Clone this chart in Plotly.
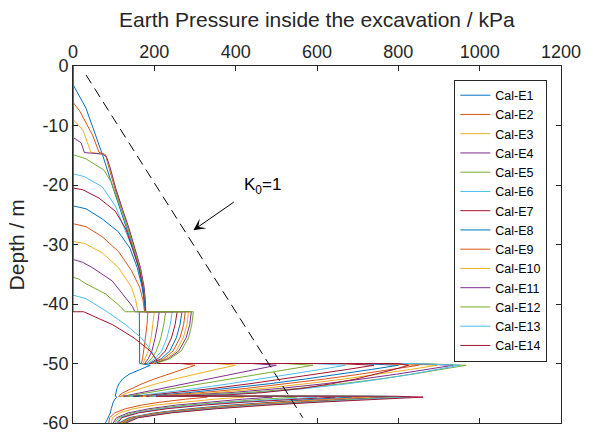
import plotly.graph_objects as go

names = ["Cal-E1", "Cal-E2", "Cal-E3", "Cal-E4", "Cal-E5", "Cal-E6", "Cal-E7",
         "Cal-E8", "Cal-E9", "Cal-E10", "Cal-E11", "Cal-E12", "Cal-E13", "Cal-E14"]

colors = ["rgb(0,114,189)", "rgb(217,83,25)", "rgb(237,177,32)", "rgb(126,47,142)",
          "rgb(119,172,48)", "rgb(77,190,238)", "rgb(162,20,47)",
          "rgb(0,114,189)", "rgb(217,83,25)", "rgb(237,177,32)", "rgb(126,47,142)",
          "rgb(119,172,48)", "rgb(77,190,238)", "rgb(162,20,47)"]

# upper soil (ground surface to -41.3 m): depth / pressure per curve
depth_upper = [
    [0, -3.1, -7.1, -14.8, -20.8, -24.1, -27.35, -30.6, -33.9, -37.2, -39.3, -41.3],
    [0, -6.1, -7.5, -11.6, -14.5, -14.9, -17.0, -20.8, -24.1, -27.35, -30.6, -33.9, -37.2, -39.3, -41.3],
    [0, -9.0, -10.7, -14.5, -14.9, -17.0, -20.8, -24.1, -27.35, -30.6, -33.9, -37.2, -39.3, -41.3],
    [0, -12.0, -12.9, -14.55, -14.8, -15.2, -17.0, -20.8, -24.1, -27.35, -30.6, -33.9, -37.2, -39.3, -41.3],
    [0, -14.9, -15.6, -17.5, -19.5, -22.0, -24.1, -27.35, -30.6, -33.9, -37.2, -39.3, -41.3],
    [0, -18.1, -18.6, -20.3, -23.5, -26.8, -30.6, -33.9, -37.2, -39.3, -41.3],
    [0, -20.5, -20.8, -22.2, -24.4, -27.4, -30.6, -33.9, -37.2, -39.3, -41.3],
    [0, -23.5, -24.0, -25.7, -27.9, -30.6, -33.9, -37.2, -39.3, -41.3],
    [0, -26.5, -27.0, -28.7, -31.2, -34.4, -37.2, -39.3, -41.3],
    [0, -29.5, -29.8, -31.4, -33.9, -37.2, -39.3, -41.3],
    [0, -32.5, -33.0, -33.9, -36.1, -38.8, -40.4, -41.3],
    [0, -35.5, -35.8, -36.6, -38.3, -40.4, -41.3],
    [0, -38.5, -39.1, -40.3, -41.3],
    [0, -41.3],
]
pressure_upper = [
    [0, 0, 32, 72, 100, 116, 132, 148, 162, 172, 176, 178],
    [0, 0, 16, 48, 64, 80, 88, 104, 120, 136, 150, 164, 173, 176, 178],
    [0, 0, 24, 44, 80, 89, 105, 121, 137, 151, 165, 174, 177, 178],
    [0, 0, 20, 28, 72, 82, 91, 106, 122, 138, 152, 166, 175, 178, 179],
    [0, 0, 32, 76, 94, 108, 119, 135, 150, 164, 173, 176, 178],
    [0, 0, 28, 72, 104, 124, 146, 161, 171, 175, 177],
    [0, 0, 24, 64, 104, 130, 146, 162, 172, 176, 178],
    [0, 0, 32, 72, 112, 140, 158, 170, 175, 177],
    [0, 0, 32, 72, 112, 144, 164, 172, 176],
    [0, 0, 28, 72, 112, 144, 154, 160],
    [0, 0, 24, 48, 96, 128, 146, 152],
    [0, 0, 14, 32, 80, 116, 128],
    [0, 0, 32, 62, 84],
    [0, 0],
]

# layer between -41.3 m and -50 m
depth_layer3 = [-41.3, -43.5, -45.7, -47.9, -49.2, -50.0]
pressure_layer3 = [
    [163, 163, 163, 163, 163, 164],
    [184, 182, 178, 174, 171, 168],
    [200, 196, 192, 185, 178, 172],
    [212, 208, 202, 194, 185, 176],
    [228, 223, 216, 205, 193, 180],
    [244, 239, 231, 218, 201, 184],
    [256, 251, 242, 227, 209, 188],
    [268, 263, 254, 238, 217, 192],
    [276, 272, 263, 246, 223, 195],
    [284, 280, 271, 254, 229, 198],
    [291, 287, 278, 260, 234, 201],
    [296, 292, 284, 266, 238, 204],
    [84, 130, 168, 193, 203, 206],
    [26, 98, 150, 190, 204, 208],
]

# layer between -50 m and -55.5 m
depth_layer4 = [-50.0, -50.3, -51.0, -51.8, -52.6, -53.4, -54.2, -54.9, -55.3, -55.5]
pressure_layer4 = [
    [164, 190, 165, 138, 122, 113, 108, 105, 104, 104],
    [264, 300, 268, 233, 200, 170, 143, 123, 115, 112],
    [352, 400, 352, 299, 250, 205, 165, 135, 122, 118],
    [440, 500, 449, 392, 334, 276, 218, 167, 138, 124],
    [519, 590, 528, 458, 388, 317, 247, 185, 149, 132],
    [590, 670, 609, 537, 463, 385, 303, 224, 173, 140],
    [651, 740, 675, 599, 519, 435, 343, 253, 191, 148],
    [704, 800, 734, 655, 572, 483, 384, 284, 211, 156],
    [748, 850, 784, 705, 620, 528, 424, 315, 233, 164],
    [788, 895, 830, 752, 667, 573, 466, 349, 258, 172],
    [823, 935, 872, 795, 712, 619, 508, 386, 286, 180],
    [851, 967, 907, 834, 754, 662, 552, 425, 317, 188],
    [836, 950, 897, 832, 759, 676, 573, 452, 343, 196],
    [800, 825, 790, 746, 696, 636, 561, 465, 372, 204],
]

# layer between -55.5 m and -60 m
depth_layer5 = [-55.5, -55.65, -56.0, -56.5, -57.0, -57.6, -58.3, -59.1, -60.0]
pressure_layer5 = [
    [104, 108, 103, 99, 96, 94, 92, 87, 80],
    [304, 330, 277, 214, 168, 129, 103, 90, 88],
    [386, 420, 348, 264, 201, 149, 114, 97, 94],
    [451, 490, 417, 326, 253, 187, 136, 107, 99],
    [506, 550, 466, 363, 280, 204, 146, 112, 103],
    [552, 600, 507, 393, 302, 218, 154, 117, 107],
    [593, 645, 544, 421, 321, 231, 161, 120, 110],
    [630, 685, 597, 484, 385, 288, 201, 138, 113],
    [662, 720, 627, 507, 404, 300, 208, 142, 116],
    [690, 750, 653, 528, 419, 312, 216, 146, 119],
    [718, 780, 679, 548, 435, 323, 223, 150, 122],
    [741, 805, 700, 566, 449, 332, 229, 154, 125],
    [764, 830, 722, 583, 462, 342, 235, 158, 128],
    [792, 861, 748, 604, 478, 353, 242, 161, 130],
]

# K0 = 1 reference line
k0_pressure = [32, 565]
k0_depth = [-1.5, -59.1]

# arrow: tail -> head (data coordinates)
arrow_tail = (399, -22.7)
arrow_head = (296, -27.6)

x_ticks = [0, 200, 400, 600, 800, 1000, 1200]
x_ticktext = ["0", "200", "400", "600", "800", "1000", "1200"]
y_ticks = [-60, -50, -40, -30, -20, -10, 0]
y_ticktext = ["-60", "-50", "-40", "-30", "-20", "-10", "0"]

FONT = "Liberation Sans, Arial, Helvetica, sans-serif"
INK = "#262626"

fig = go.Figure()
for i, name in enumerate(names):
    xs = pressure_upper[i] + pressure_layer3[i] + pressure_layer4[i] + pressure_layer5[i]
    ys = depth_upper[i] + depth_layer3 + depth_layer4 + depth_layer5
    fig.add_trace(go.Scatter(x=xs, y=ys, mode="lines", name=name,
                             line=dict(color=colors[i], width=1)))

fig.add_trace(go.Scatter(x=k0_pressure, y=k0_depth, mode="lines", showlegend=False,
                         line=dict(color="black", width=1, dash="10px,6px")))

fig.add_annotation(x=arrow_head[0], y=arrow_head[1], ax=arrow_tail[0], ay=arrow_tail[1],
                   xref="x", yref="y", axref="x", ayref="y", text="", showarrow=True,
                   arrowhead=3, arrowsize=2, arrowwidth=1, arrowcolor="black")
fig.add_annotation(x=467, y=-20.2, xref="x", yref="y", text="K<sub>0</sub>=1",
                   showarrow=False, font=dict(family=FONT, size=17, color="black"))

fig.add_annotation(x=0.5, y=1.13, xref="paper", yref="paper",
                   text="Earth Pressure inside the excavation / kPa", showarrow=False,
                   xanchor="center", yanchor="middle",
                   font=dict(family=FONT, size=21, color=INK))
fig.add_annotation(x=-0.115, y=0.5, xref="paper", yref="paper", text="Depth / m",
                   textangle=-90, showarrow=False, xanchor="center", yanchor="middle",
                   font=dict(family=FONT, size=21, color=INK))

fig.update_layout(
    width=593, height=445,
    margin=dict(l=73, r=20, t=66, b=12),
    paper_bgcolor="white", plot_bgcolor="white",
    font=dict(family=FONT, size=18, color=INK),
    showlegend=True,
    legend=dict(x=0.972, y=0.962, xanchor="right", yanchor="top",
                bgcolor="white", bordercolor=INK, borderwidth=1,
                font=dict(family=FONT, size=12.5, color="black"),
                tracegroupgap=0, itemwidth=30),
    xaxis=dict(side="top", range=[0, 1200], tickvals=x_ticks, ticktext=x_ticktext,
               ticks="inside", ticklen=5, ticklabeloverflow="allow",
               tickcolor=INK, showline=True, linecolor=INK, linewidth=1, mirror="ticks",
               showgrid=False, zeroline=False, tickfont=dict(size=18, color=INK)),
    yaxis=dict(range=[-60, 0], tickvals=y_ticks, ticktext=y_ticktext,
               ticks="inside", ticklen=5, ticklabeloverflow="allow",
               tickcolor=INK, showline=True, linecolor=INK, linewidth=1, mirror="ticks",
               showgrid=False, zeroline=False, tickfont=dict(size=18, color=INK)),
)

fig.write_html("out.html")
